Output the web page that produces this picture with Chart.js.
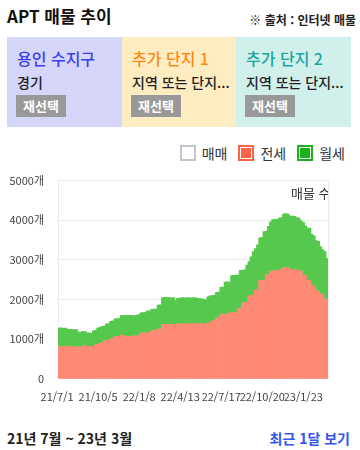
<!DOCTYPE html>
<html lang="ko">
<head>
<meta charset="utf-8">
<title>APT 매물 추이</title>
<script src="https://cdn.jsdelivr.net/npm/chart.js@4"></script>
<style>
    body { margin: 0; width: 360px; height: 450px; background: #fff; font-family: "Noto Sans CJK KR", "Noto Sans", sans-serif; color: #222; position: relative; overflow: hidden; }
    .abs { position: absolute; white-space: nowrap; }
    .title { left: 7px; top: 5px; font-size: 17px; font-weight: bold; line-height: 22px; color: #111; }
    .source { right: 4px; top: 11px; font-size: 12px; font-weight: 600; line-height: 18px; color: #222; }
    .box { top: 37px; height: 90px; }
    .box .name { position: absolute; left: 10px; top: 10px; font-size: 16px; line-height: 22px; font-weight: 500; }
    .box .sub { position: absolute; left: 10px; top: 35px; font-size: 14px; line-height: 20px; color: #222; font-weight: 500; }
    .box .btn { position: absolute; left: 9px; top: 58px; width: 50px; height: 22px; background: #999; color: #fff; font-size: 13px; font-weight: bold; line-height: 22px; text-align: center; }
    .legend { right: 15px; top: 144px; font-size: 14px; line-height: 18px; color: #333; display: flex; align-items: center; }
    .legend span.sw { display: inline-block; width: 10px; height: 10px; padding: 1px; border: 2px solid; background-clip: content-box; margin-right: 6px; }
    .legend .item { display: flex; align-items: center; margin-left: 11px; }
    .axis-title { left: 0; top: 185px; width: 328px; height: 20px; overflow: hidden; }
    .axis-title span { position: absolute; left: 291px; top: 0; font-size: 13px; line-height: 16px; color: #333; }
    .period { left: 7px; top: 428px; font-size: 14px; font-weight: 600; line-height: 20px; color: #222; }
    .recent { right: 10px; top: 428px; font-size: 14px; font-weight: 600; line-height: 20px; color: #3355ee; }
</style>
</head>
<body>
<div class="abs title">APT 매물 추이</div>
<div class="abs source">※ 출처 : 인터넷 매물</div>

<div class="abs box" style="left:7px; width:115px; background:#d5d6f9;">
    <div class="name" style="color:#3a3ff0;">용인 수지구</div>
    <div class="sub">경기</div>
    <div class="btn">재선택</div>
</div>
<div class="abs box" style="left:122px; width:114px; background:#ffedc2;">
    <div class="name" style="color:#ff8a14;">추가 단지 1</div>
    <div class="sub">지역 또는 단지...</div>
    <div class="btn">재선택</div>
</div>
<div class="abs box" style="left:236px; width:115px; background:#d1f0ec;">
    <div class="name" style="color:#1ba69c;">추가 단지 2</div>
    <div class="sub">지역 또는 단지...</div>
    <div class="btn">재선택</div>
</div>

<div class="abs legend" id="legend"></div>

<canvas id="listingChart" width="340" height="262" style="position:absolute; left:0; top:160px; width:340px; height:262px;"></canvas>
<div class="abs axis-title"><span>매물 수</span></div>

<div class="abs period">21년 7월 ~ 23년 3월</div>
<div class="abs recent">최근 1달 보기</div>

<script>
// one bar every 5 days, from 21/7/1
const startDate = new Date(2021, 6, 1);
const stepDays = 5;
const tickEvery = 19;
const tickLabels = ['21/7/1', '21/10/5', '22/1/8', '22/4/13', '22/7/17', '22/10/20', '23/1/23'];
const seriesNames = ['매매', '전세', '월세'];

const maemae = [];
const jeonse = [
    808, 808, 808, 808, 808, 808, 808, 808, 808, 790,
    795, 833, 830, 808, 805, 810, 765, 850, 855, 895,
    893, 960, 962, 965, 1005, 1005, 1064, 1065, 1060, 1090,
    1090, 1065, 1065, 1062, 1080, 1080, 1078, 1080, 1150, 1150,
    1148, 1150, 1152, 1210, 1208, 1212, 1252, 1255, 1363, 1365,
    1365, 1362, 1365, 1360, 1277, 1380, 1385, 1378, 1380, 1385,
    1380, 1390, 1382, 1385, 1378, 1380, 1380, 1375, 1378, 1405,
    1410, 1465, 1470, 1535, 1530, 1620, 1625, 1615, 1620, 1660,
    1662, 1665, 1660, 1765, 1770, 1915, 1920, 1918, 2090, 2095,
    2092, 2235, 2240, 2475, 2470, 2480, 2630, 2625, 2710, 2715,
    2718, 2712, 2745, 2750, 2800, 2798, 2802, 2750, 2748, 2745,
    2750, 2715, 2710, 2605, 2600, 2475, 2470, 2345, 2340, 2220,
    2215, 2135, 2130, 2005, 2000
];
const wolse = [
    462, 472, 457, 467, 432, 427, 432, 422, 427, 380,
    370, 357, 355, 342, 340, 330, 440, 365, 420, 395,
    427, 365, 413, 420, 440, 450, 441, 445, 455, 505,
    500, 530, 520, 533, 510, 500, 522, 525, 510, 515,
    517, 555, 548, 535, 542, 543, 603, 605, 677, 685,
    680, 678, 670, 680, 688, 645, 645, 662, 650, 650,
    660, 640, 653, 655, 647, 635, 630, 625, 602, 655,
    675, 630, 630, 640, 650, 680, 685, 815, 820, 775,
    938, 940, 950, 845, 960, 820, 820, 942, 860, 975,
    1108, 1045, 1130, 1065, 1090, 1230, 1090, 1215, 1240, 1295,
    1297, 1298, 1305, 1310, 1350, 1362, 1348, 1350, 1347, 1345,
    1310, 1335, 1270, 1335, 1250, 1325, 1320, 1295, 1260, 1260,
    1245, 1195, 1120, 1195, 1030
];

const labels = jeonse.map((_, i) => {
    const d = new Date(startDate.getTime() + i * stepDays * 86400000);
    return `${String(d.getFullYear()).slice(2)}/${d.getMonth() + 1}/${d.getDate()}`;
});

const legendColors = [
    { fill: '#ffffff', border: '#c4c4cc' },
    { fill: '#ff6347', border: '#ff6347' },
    { fill: '#1bb31b', border: '#1bb31b' }
];

document.getElementById('legend').innerHTML = seriesNames.map((name, i) => `
    <div class="item">
        <span class="sw" style="background-color:${legendColors[i].fill}; border-color:${legendColors[i].border}"></span>${name}
    </div>
`).join('');

Chart.defaults.font.family = '"Noto Sans CJK KR", "Noto Sans", sans-serif';
Chart.defaults.color = '#444';

const ctx = document.getElementById('listingChart').getContext('2d');
new Chart(ctx, {
    type: 'bar',
    data: {
        labels: labels,
        datasets: [{
            label: seriesNames[0],
            data: maemae,
            backgroundColor: '#ffffff'
        }, {
            label: seriesNames[1],
            data: jeonse,
            backgroundColor: '#ff8a75'
        }, {
            label: seriesNames[2],
            data: wolse,
            backgroundColor: '#56c84e'
        }]
    },
    options: {
        responsive: false,
        animation: false,
        devicePixelRatio: 1,
        layout: {
            padding: { top: 3, right: 12, bottom: 8, left: 0 }
        },
        datasets: {
            bar: {
                barPercentage: 1,
                categoryPercentage: 1,
                borderWidth: 0,
                inflateAmount: 0.6
            }
        },
        plugins: {
            legend: { display: false },
            tooltip: { enabled: false }
        },
        scales: {
            x: {
                stacked: true,
                grid: { display: false, drawTicks: false },
                border: { display: false },
                ticks: {
                    autoSkip: false,
                    maxRotation: 0,
                    padding: 11,
                    labelOffset: -2,
                    font: { size: 11 },
                    color: '#444',
                    callback: (value, index) => index % tickEvery === 0 ? tickLabels[index / tickEvery] : null
                }
            },
            y: {
                stacked: true,
                min: 0,
                max: 5000,
                afterFit: scale => { scale.width = 58; },
                grid: { color: '#ebebeb', drawTicks: false },
                border: { color: '#ebebeb' },
                ticks: {
                    stepSize: 1000,
                    padding: 14,
                    font: { size: 11 },
                    color: '#444',
                    callback: value => value === 0 ? '0' : value + '개'
                }
            },
            yRight: {
                position: 'right',
                min: 0,
                max: 5000,
                afterFit: scale => { scale.width = 0; },
                grid: { drawOnChartArea: false, drawTicks: false },
                border: { color: '#ebebeb' },
                ticks: { display: false }
            }
        }
    }
});
</script>
</body>
</html>
